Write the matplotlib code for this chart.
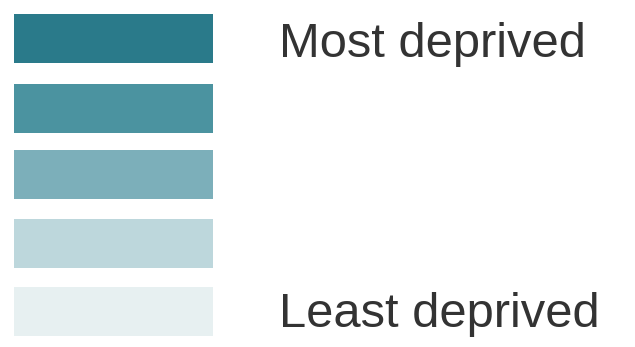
import matplotlib
matplotlib.use("Agg")
import matplotlib.pyplot as plt

# Legend classes (top to bottom)
classes = ["Q5", "Q4", "Q3", "Q2", "Q1"]
colors = ["#2a7a8a", "#4b93a0", "#7cafba", "#bdd7dc", "#e7f0f1"]
row_centers = [38.5, 108, 174.5, 243.5, 311]
labels = ["Most deprived", "Least deprived"]
label_rows = [57.3, 326.7]

W, H = 635, 347
fig = plt.figure(figsize=(W / 100, H / 100), dpi=100)
ax = fig.add_axes([0, 0, 1, 1])
ax.set_xlim(0, W)
ax.set_ylim(H, 0)
ax.axis("off")

ax.barh(row_centers, [199] * len(classes), left=14, height=49,
        color=colors, edgecolor="none")

for lab, y in zip(labels, label_rows):
    ax.text(279, y, lab, fontsize=35.2, family="Liberation Sans",
            color="#333333", va="baseline", ha="left")

fig.savefig("out.png", dpi=100, facecolor="white")
